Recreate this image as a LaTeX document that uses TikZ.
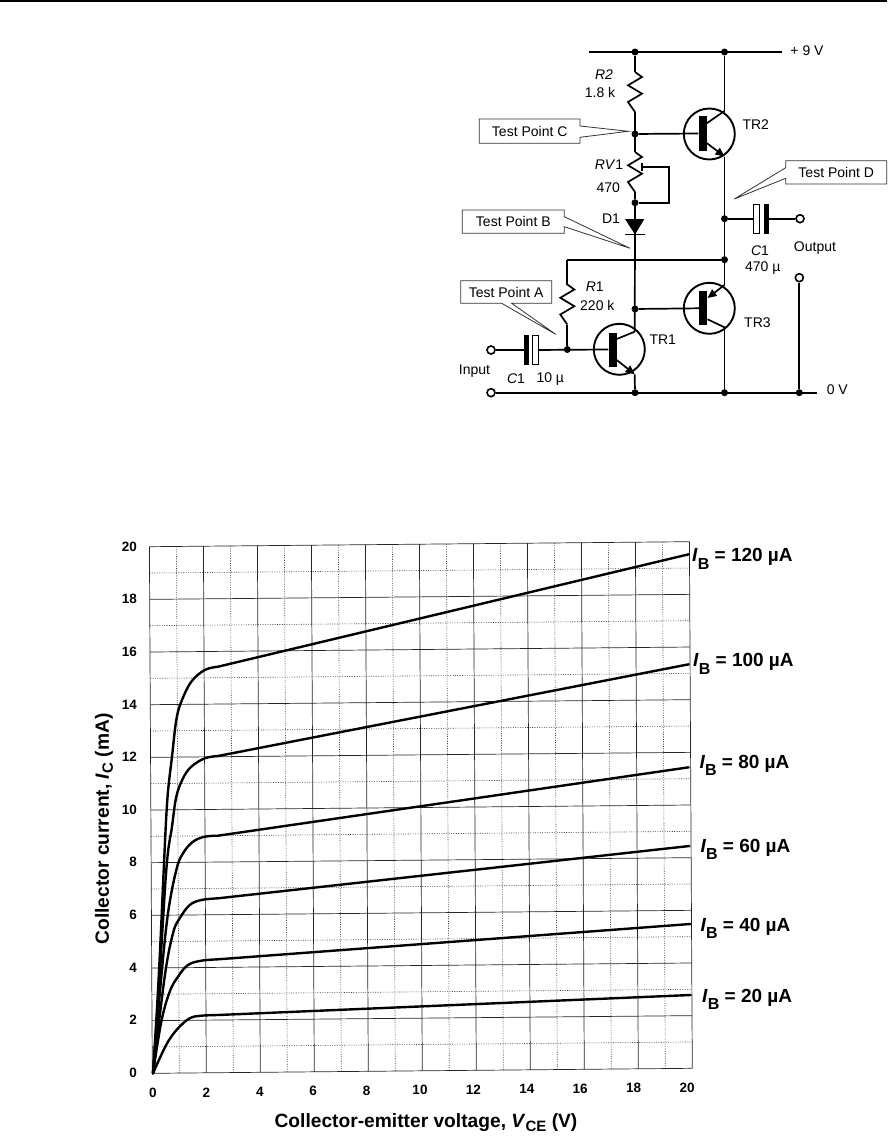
\documentclass[tikz,border=0pt]{standalone}
\usepackage{fontspec}
\setmainfont{Liberation Sans}
\usetikzlibrary{arrows.meta, positioning}

\tikzset{
    wire/.style={line width=1.7pt, black},
    jdot/.style={circle, fill=black, inner sep=0pt, minimum size=7pt},
    term/.style={circle, draw=black, fill=white, line width=1.6pt, inner sep=0pt, minimum size=8pt},
    tran/.style={circle, draw=black, line width=1.9pt, inner sep=0pt, minimum size=51pt},
    tbar/.style={rectangle, fill=black, inner sep=0pt, minimum width=8pt, minimum height=34pt},
    capfull/.style={rectangle, fill=black, inner sep=0pt, minimum width=5pt, minimum height=30pt},
    capopen/.style={rectangle, draw=black, fill=white, line width=1.1pt, inner sep=0pt, minimum width=6pt, minimum height=29pt},
    lab/.style={font=\fontsize{14}{16}\selectfont, inner sep=0pt},
    callout/.style={draw=black!80, fill=white, line width=0.8pt, line join=miter},
    major/.style={black!85, line width=0.7pt},
    minor/.style={black!75, line width=0.6pt, dash pattern=on 1pt off 1.4pt},
    curve/.style={black, line width=2.4pt, line cap=round, line join=round},
    num/.style={font=\fontsize{13.5}{15}\selectfont\bfseries, inner sep=0pt},
    ttl/.style={font=\fontsize{19.2}{21}\selectfont\bfseries, inner sep=0pt},
    iblab/.style={font=\fontsize{19}{21}\selectfont\bfseries, inner sep=0pt, anchor=base west},
    pics/zigzag/.style={code={
        \draw[wire, line join=miter] (0,0) -- (7,5) -- (-7,13.3) -- (7,21.7) -- (-7,30) -- (0,40);
    }}
}
\newcommand{\ibval}[1]{\textit{I}\raisebox{-7.5pt}{\fontsize{16}{17}\selectfont B} = #1 µA}

\begin{document}
\begin{tikzpicture}[x=1pt, y=-1pt]
    \useasboundingbox (0,0) rectangle (887,1137);

    % Page rule
    \coordinate (ruleL) at (0,0.8);
    \coordinate (ruleR) at (887,0.8);
    \draw[black, line width=1.6pt] (ruleL) -- (ruleR);

    % Junctions
    \node[jdot] (railA) at (635,52) {};
    \node[jdot] (railB) at (724.5,52) {};
    \node[jdot] (junC) at (635,134) {};
    \node[jdot] (junV) at (635,202.7) {};
    \node[jdot] (junD) at (724.5,218.7) {};
    \node[jdot] (junF) at (724.5,259.7) {};
    \node[jdot] (junB) at (635,309) {};
    \node[jdot] (junA) at (567.3,349.5) {};
    \node[jdot] (gndA) at (635,392.7) {};
    \node[jdot] (gndB) at (724.5,392.7) {};
    \node[jdot] (gndC) at (799.3,392.7) {};
    \coordinate (railL) at (589,52);
    \coordinate (railR) at (782,52);
    \coordinate (gndR) at (816.7,392.7);
    \coordinate (feedL) at (567.3,259.7);
    \coordinate (feedM) at (635,259.7);

    % Terminals
    \node[term] (inTop) at (491,350) {};
    \node[term] (inBot) at (491,392.7) {};
    \node[term] (outTop) at (800,218.7) {};
    \node[term] (outBot) at (799.3,277.7) {};

    % Transistors
    \node[tran] (TR1) at (619.3,349.3) {};
    \node[tran] (TR2) at (709.3,134) {};
    \node[tran] (TR3) at (709.3,308.3) {};
    \node[tbar] (barA) at (612.5,349.5) {};
    \node[tbar] (barB) at (702.5,133.5) {};
    \node[tbar] (barC) at (703.3,308.3) {};
    \coordinate (cA) at (634.7,331.7);
    \coordinate (eA) at (634.7,374.3);
    \coordinate (cB) at (724.5,111);
    \coordinate (eB) at (724.5,156.5);
    \coordinate (eC) at (724.5,285);
    \coordinate (cC) at (724.5,327.3);
    \draw[wire] (barA.east |- 0,339) -- (cA);
    \draw[wire, -{Triangle[length=9pt, width=8pt]}] (barA.east |- 0,360) -- (eA);
    \draw[wire] (barB.east |- 0,123.3) -- (cB);
    \draw[wire, -{Triangle[length=9pt, width=8pt]}] (barB.east |- 0,143) -- (eB);
    \draw[wire, -{Triangle[length=9pt, width=8pt]}] (eC) -- (barC.east |- 0,298);
    \draw[wire] (barC.east |- 0,319.3) -- (cC);

    % Resistors
    \coordinate (r2a) at (635,72);
    \coordinate (r2b) at (635,112);
    \coordinate (rva) at (635,152);
    \coordinate (rvb) at (635,192);
    \coordinate (r1a) at (567.3,284.5);
    \coordinate (r1b) at (567.3,324.5);
    \pic at (r2a) {zigzag};
    \pic at (rva) {zigzag};
    \pic at (r1a) {zigzag};

    % Preset wiper
    \coordinate (wipA) at (642,166.7);
    \coordinate (wipB) at (669.3,166.7);
    \coordinate (wipC) at (669.3,202.7);
    \draw[wire] (wipA) -- (wipB) -- (wipC) -- (junV);
    \draw[wire] ([yshift=-4pt]wipA) -- ([yshift=4pt]wipA);

    % Diode
    \coordinate (dioL) at (625,219);
    \coordinate (dioR) at (644.3,219);
    \coordinate (dioT) at (635,234.5);
    \fill[black] (dioL) -- (dioR) -- (dioT) -- cycle;
    \draw[wire] ([xshift=-9.7pt]dioT) -- ([xshift=9.7pt]dioT);

    % Capacitors
    \node[capfull] (capAf) at (526.2,350) {};
    \node[capopen] (capAo) at (535.5,350) {};
    \node[capfull] (capBf) at (766.2,218.7) {};
    \node[capopen] (capBo) at (756.3,218.7) {};

    % Wiring
    \draw[wire] (railL) -- (railR);
    \draw[wire] (railA) -- (r2a);
    \draw[wire] (r2b) -- (rva);
    \draw[wire] (junC) -- (barB.west);
    \draw[wire] (rvb) -- (junV) -- (dioT);
    \draw[wire] (dioT) -- (cA);
    \draw[wire] (railB) -- (cB);
    \draw[wire] (eB) -- (eC);
    \draw[wire] (cC) -- (gndB);
    \draw[wire] (eA) -- (gndA);
    \draw[wire] (feedL) -- (junF);
    \draw[wire] (feedL) -- (r1a);
    \draw[wire] (r1b) -- (junA);
    \draw[wire] (junB) -- (barC.west);
    \draw[wire] (inTop) -- (capAf);
    \draw[wire] (capAo) -- (barA.west);
    \draw[wire] (junD) -- (capBo);
    \draw[wire] (capBf) -- (outTop);
    \draw[wire] (outBot) -- (gndC);
    \draw[wire] (inBot) -- (gndR);
    \node[capfull] at (capAf) {};
    \node[capopen] at (capAo) {};
    \node[capfull] at (capBf) {};
    \node[capopen] at (capBo) {};

    % Circuit labels
    \node[lab] (vPlus) at (807,50.7) {+ 9 V};
    \node[lab] (vZero) at (837.3,390) {0 V};
    \node[lab, anchor=west] (tTwo) at (742.3,124.3) {TR2};
    \node[lab, anchor=west] (tThree) at (744,322.7) {TR3};
    \node[lab, anchor=west] (tOne) at (649.3,339.3) {TR1};
    \node[lab] (lRtwo) at (604,74.3) {\textit{R2}};
    \node[lab] (lRtwoV) at (600,92.7) {1.8 k};
    \node[lab] (lRv) at (609,164.3) {\textit{RV}1};
    \node[lab] (lRvV) at (608.3,187.3) {470};
    \node[lab] (lDio) at (611,218.7) {D1};
    \node[lab] (lRone) at (594.7,286.7) {\textit{R}1};
    \node[lab] (lRoneV) at (597.3,305.7) {220 k};
    \node[lab] (lCone) at (760,250.7) {\textit{C}1};
    \node[lab] (lConeV) at (762.7,268) {470 µ};
    \node[lab] (lOut) at (815,247.7) {Output};
    \node[lab] (lIn) at (474.5,370.7) {Input};
    \node[lab] (lCtwo) at (516,379) {\textit{C}1};
    \node[lab] (lCtwoV) at (550.3,379) {10 µ};

    % Test point callouts
    \draw[callout] (479.3,119) -- (580,119) -- (580,126) -- (628.3,131.3) -- (580,137.3) -- (580,143.3) -- (479.3,143.3) -- cycle;
    \node[lab] (tpC) at (529.7,131.3) {Test Point C};
    \draw[callout] (785.7,160.7) -- (886.7,160.7) -- (886.7,184) -- (785.7,184) -- (785.7,178.3) -- (734.3,199) -- (785.7,167.7) -- cycle;
    \node[lab] (tpD) at (836.2,172) {Test Point D};
    \draw[callout] (462.3,210) -- (564.3,210) -- (564.3,216.7) -- (630,248.3) -- (564.3,226.7) -- (564.3,233.3) -- (462.3,233.3) -- cycle;
    \node[lab] (tpB) at (513.3,221.5) {Test Point B};
    \draw[callout] (460.7,280.7) -- (551.7,280.7) -- (551.7,303.3) -- (511.7,303.3) -- (555.7,334.3) -- (501.7,303.3) -- (460.7,303.3) -- cycle;
    \node[lab] (tpA) at (506.2,292) {Test Point A};

    % Grid
    \begin{scope}[shift={(152.3,1073.3)}, x={(27pt,0.25pt)}, y={(-0.145pt,26.33pt)}]
        \foreach \k in {1,3,...,19} {
            \draw[minor] (\k,0) -- (\k,20);
            \draw[minor] (0,\k) -- (20,\k);
        }
        \foreach \k in {0,2,...,20} {
            \draw[major] (\k,0) -- (\k,20);
            \draw[major] (0,\k) -- (20,\k);
        }
    \end{scope}

    % Characteristic curves
    \draw[curve] plot[smooth, tension=0.6] coordinates {(153,1073.3) (157.3,1003) (160.7,936.7) (163.7,870) (167.3,800) (172,756.7) (176.3,720) (181.3,701.7) (191.3,681.7) (204.7,670) (218,666.7)} -- (688.7,554.3);
    \draw[curve] plot[smooth, tension=0.6] coordinates {(153,1073.3) (158,1003.3) (166.3,870) (172,826.7) (176.3,796.7) (183,778.3) (191.3,766.7) (204.7,758.3) (218,756)} -- (688.7,664.3);
    \draw[curve] plot[smooth, tension=0.6] coordinates {(153,1073.3) (161.3,976.7) (168,913.3) (176.3,870) (183,853.3) (193,841.7) (204.7,836.7) (218,835.7)} -- (688.7,767.3);
    \draw[curve] plot[smooth, tension=0.6] coordinates {(153,1073.3) (164.7,976.7) (173,933.3) (179.7,918.3) (189.7,905) (201.3,900) (218,898.3)} -- (689.3,846);
    \draw[curve] plot[smooth, tension=0.6] coordinates {(153,1073.3) (161.3,1021.7) (169.7,991.7) (178,976.7) (188,965) (201.3,960.7) (218,959.3)} -- (690.3,924);
    \draw[curve] plot[smooth, tension=0.6] coordinates {(153,1073.3) (159.7,1058.3) (168,1041.7) (178,1028.3) (189.7,1018.3) (201.3,1015.7) (218,1015)} -- (690.7,995);

    % Axis numbers
    \foreach \t in {0,2,...,20} {
        \node[num] (xn\t) at ({153+26.7*\t},{1093-0.28*\t}) {\t};
        \node[num, anchor=east] (yn\t) at (137,{1072.7-26.3*\t}) {\t};
    }

    % Axis titles
    \node[ttl, rotate=90] (yTitle) at (104,829) {Collector current, \textit{I}\raisebox{-4pt}{\fontsize{15}{16}\selectfont C} (mA)};
    \node[ttl] (xTitle) at (426,1123) {Collector-emitter voltage, \textit{V}\raisebox{-4pt}{\fontsize{15}{16}\selectfont CE} (V)};

    % Base current labels
    \node[iblab] (ibF) at (692,561.7) {\ibval{120}};
    \node[iblab] (ibE) at (693,666.7) {\ibval{100}};
    \node[iblab] (ibD) at (699.3,768.3) {\ibval{80}};
    \node[iblab] (ibC) at (700.3,852) {\ibval{60}};
    \node[iblab] (ibB) at (700.3,931) {\ibval{40}};
    \node[iblab] (ibA) at (702,1002.3) {\ibval{20}};
\end{tikzpicture}
\end{document}
